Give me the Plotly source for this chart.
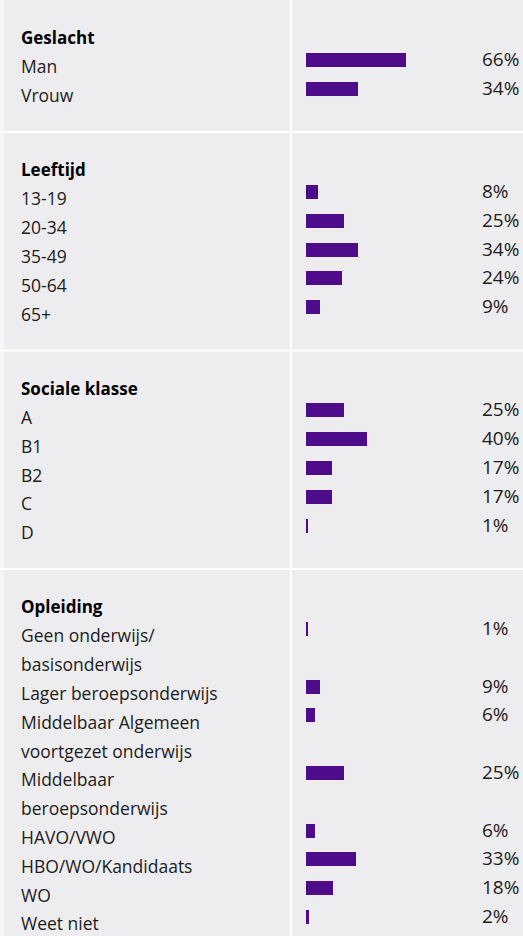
import plotly.graph_objects as go

# ---------------- data ----------------
section_titles = ["Geslacht", "Leeftijd", "Sociale klasse", "Opleiding"]

geslacht_labels = ["Man", "Vrouw"]
geslacht_values = [66, 34]

leeftijd_labels = ["13-19", "20-34", "35-49", "50-64", "65+"]
leeftijd_values = [8, 25, 34, 24, 9]

klasse_labels = ["A", "B1", "B2", "C", "D"]
klasse_values = [25, 40, 17, 17, 1]

opleiding_labels = [
    "Geen onderwijs/<br>basisonderwijs",
    "Lager beroepsonderwijs",
    "Middelbaar Algemeen<br>voortgezet onderwijs",
    "Middelbaar<br>beroepsonderwijs",
    "HAVO/VWO",
    "HBO/WO/Kandidaats",
    "WO",
    "Weet niet",
]
opleiding_values = [1, 9, 6, 25, 6, 33, 18, 2]

sections = [
    (section_titles[0], geslacht_labels, geslacht_values),
    (section_titles[1], leeftijd_labels, leeftijd_values),
    (section_titles[2], klasse_labels, klasse_values),
    (section_titles[3], opleiding_labels, opleiding_values),
]

# ---------------- layout constants ----------------
W, H = 523, 936
PX_PER_PCT = 1.52
BAR_X0 = 306
LINE = 28.8
PAD_TOP = 37.5
PAD_BOTTOM = 37.0
BAR_OFFSET = -6.5
BG = "#edecef"
BAR_COLOR = "#4e0b8a"
TEXT_COLOR = "#1c1c1c"
LABEL_FONT = "Open Sans"
LABEL_SIZE = 17.5
PCT_FONT = "Open Sans"

annotations = []
shapes = []
bar_y, bar_x = [], []

y = 0.0
separators = []
for si, (title, labels, values) in enumerate(sections):
    cy = y + PAD_TOP
    annotations.append(dict(
        text="<b>%s</b>" % title, xref="paper", x=19 / W, xanchor="left",
        yref="y", y=cy, yanchor="middle", showarrow=False,
        font=dict(family=LABEL_FONT, size=LABEL_SIZE - 0.5, color="#000000")))
    for lab, val in zip(labels, values):
        cy += LINE
        lines = lab.split("<br>")
        bar_y.append(cy + BAR_OFFSET)
        bar_x.append(val)
        for li, ln in enumerate(lines):
            if li > 0:
                cy += LINE
            annotations.append(dict(
                text=ln, xref="paper", x=19 / W, xanchor="left",
                yref="y", y=cy, yanchor="middle", showarrow=False,
                font=dict(family=LABEL_FONT, size=LABEL_SIZE, color=TEXT_COLOR)))
    y = cy + PAD_BOTTOM
    if si < len(sections) - 1:
        separators.append(y)

for yy, val in zip(bar_y, bar_x):
    annotations.append(dict(
        text="%d%%" % val, xref="paper", x=480 / W, xanchor="left",
        yref="y", y=yy - 1, yanchor="middle", showarrow=False,
        font=dict(family=PCT_FONT, size=19, color=TEXT_COLOR)))

# white grid lines
shapes.append(dict(type="rect", xref="paper", yref="paper", x0=0, x1=4 / W,
                   y0=0, y1=1, fillcolor="#f7f7f8", line=dict(width=0), layer="below"))
shapes.append(dict(type="line", xref="paper", yref="paper", x0=291 / W, x1=291 / W,
                   y0=0, y1=1, line=dict(color="white", width=2), layer="below"))
for sy in separators:
    shapes.append(dict(type="line", xref="paper", yref="y", x0=0, x1=1,
                       y0=sy, y1=sy, line=dict(color="white", width=2), layer="below"))

fig = go.Figure(go.Bar(
    x=bar_x, y=bar_y, orientation="h", base=0, width=14,
    marker=dict(color=BAR_COLOR, line=dict(width=0)),
    hoverinfo="x"))

fig.update_layout(
    width=W, height=H, autosize=False,
    margin=dict(l=0, r=0, t=0, b=0, pad=0),
    paper_bgcolor=BG, plot_bgcolor=BG,
    showlegend=False,
    xaxis=dict(range=[-BAR_X0 / PX_PER_PCT, (W - BAR_X0) / PX_PER_PCT],
               visible=False, fixedrange=True),
    yaxis=dict(range=[H, 0], visible=False, fixedrange=True),
    annotations=annotations,
    shapes=shapes,
    bargap=0,
)

fig.write_html(
    "out.html",
    config={"displayModeBar": False},
    post_script="document.body.style.margin='0';document.body.style.overflow='hidden';",
)
